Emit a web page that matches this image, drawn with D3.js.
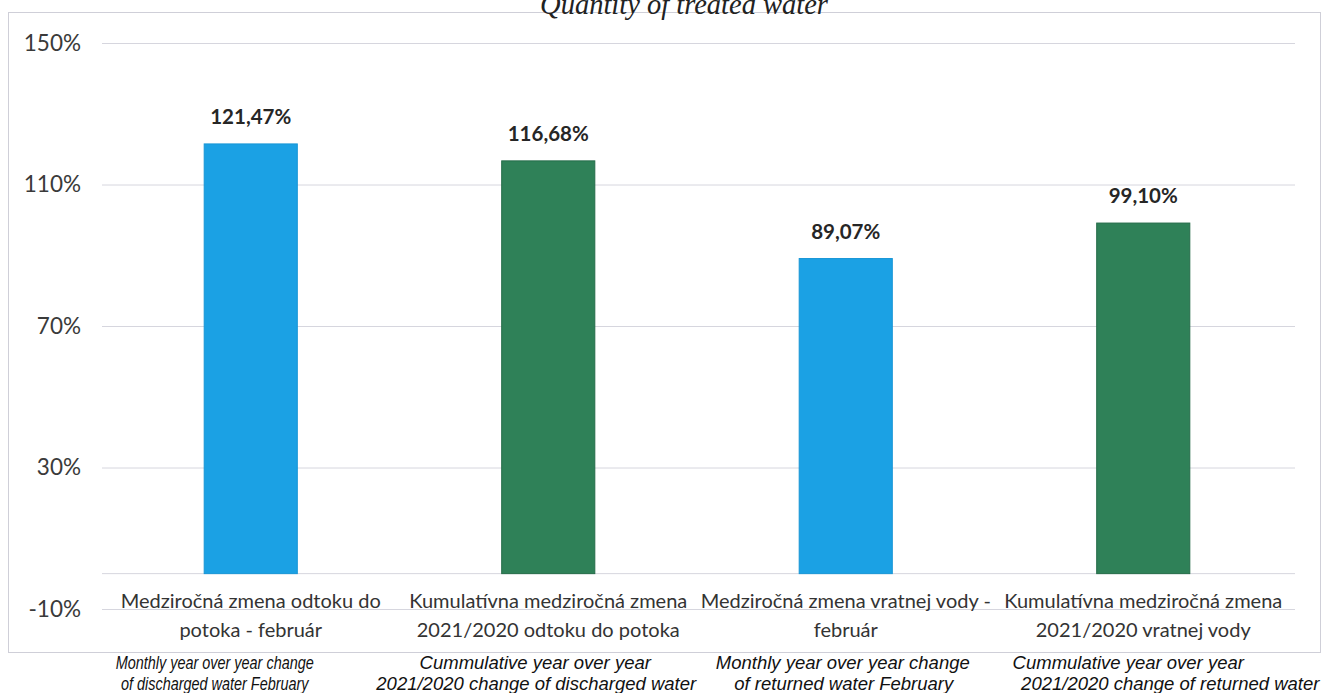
<!DOCTYPE html>
<html>
<head>
<meta charset="utf-8">
<script src="https://cdn.jsdelivr.net/npm/d3@7"></script>
<style>
  html, body { margin: 0; padding: 0; background: #ffffff; }
  svg { display: block; }
</style>
</head>
<body>
<svg id="chart" width="1324" height="693"></svg>
<script>
// ---- data ----
const categories = [
  ["Medziročná zmena odtoku do", "potoka - február"],
  ["Kumulatívna medziročná zmena", "2021/2020 odtoku do potoka"],
  ["Medziročná zmena vratnej vody -", "február"],
  ["Kumulatívna medziročná zmena", "2021/2020 vratnej vody"]
];
const values = [121.47, 116.68, 89.07, 99.10];
const valueLabels = ["121,47%", "116,68%", "89,07%", "99,10%"];
const barKinds = ["monthly", "cumulative", "monthly", "cumulative"];
const yTicks = [-10, 30, 70, 110, 150];
const englishLabels = [
  ["Monthly year over year change", "of discharged water February"],
  ["Cummulative year over year", "2021/2020 change of discharged water"],
  ["Monthly year over year change", "of returned water February"],
  ["Cummulative year over year", "2021/2020 change of returned water"]
];
const title = "Quantity of treated water";

// ---- layout ----
const W = 1324, H = 693;
const plot = { left: 102, right: 1292, top: 43, bottom: 609 };
// horizontal offsets of each English caption line from its category centre
const englishOffsets = [[-36, -36], [-13, -12], [-3, -2], [-15, 27]];
const englishScaleX = [0.78, 1.0, 1.0, 1.0];
const colors = { monthly: "#1ba1e4", cumulative: "#2f8158" };
const strokes = { monthly: "#1896d6", cumulative: "#256c49" };

const svg = d3.select("#chart");

// frame
svg.append("rect")
  .attr("x", 8.5).attr("y", 12.5)
  .attr("width", 1312).attr("height", 640)
  .attr("fill", "#ffffff")
  .attr("stroke", "#cfcfd8").attr("stroke-width", 1);

// title (partially cut at top, as in the reference)
svg.append("text")
  .attr("x", 684).attr("y", 14)
  .attr("text-anchor", "middle")
  .attr("font-family", "'Liberation Serif', 'DejaVu Serif', serif")
  .attr("font-style", "italic")
  .attr("font-size", 28.5)
  .attr("fill", "#222")
  .text(title);

const x = d3.scaleBand()
  .domain(d3.range(categories.length))
  .range([plot.left, plot.right])
  .paddingInner(0.687)
  .paddingOuter(0.3435);

const y = d3.scaleLinear()
  .domain([-10, 150])
  .range([plot.bottom, plot.top]);

// gridlines + tick labels
const yAxis = d3.axisLeft(y)
  .tickValues(yTicks)
  .tickSize(-(plot.right - plot.left + 3))
  .tickPadding(21)
  .tickFormat(d => d + "%");

const gy = svg.append("g")
  .attr("transform", `translate(${plot.left},0)`)
  .call(yAxis);
gy.select(".domain").remove();
gy.selectAll(".tick line").attr("stroke", "#d6d6de").attr("stroke-width", 1);
gy.selectAll(".tick text")
  .attr("font-family", "Lato, 'Open Sans', sans-serif")
  .attr("font-size", 22.5)
  .attr("fill", "#3a3a3a");

// zero axis line
svg.append("line")
  .attr("x1", plot.left).attr("x2", plot.right + 3)
  .attr("y1", y(0)).attr("y2", y(0))
  .attr("stroke", "#d6d6de").attr("stroke-width", 1);

// bars
svg.append("g").selectAll("rect")
  .data(values)
  .join("rect")
  .attr("x", (d, i) => x(i))
  .attr("width", x.bandwidth())
  .attr("y", d => y(Math.max(0, d)))
  .attr("height", d => Math.abs(y(d) - y(0)))
  .attr("fill", (d, i) => colors[barKinds[i]])
  .attr("stroke", (d, i) => strokes[barKinds[i]])
  .attr("stroke-width", 1);

// value labels
svg.append("g").selectAll("text")
  .data(values)
  .join("text")
  .attr("x", (d, i) => x(i) + x.bandwidth() / 2)
  .attr("y", d => y(d) - 20)
  .attr("text-anchor", "middle")
  .attr("font-family", "Lato, 'Open Sans', sans-serif")
  .attr("font-weight", "bold")
  .attr("font-size", 20.5)
  .attr("fill", "#262626")
  .text((d, i) => valueLabels[i]);

// category labels
const cat = svg.append("g").selectAll("text")
  .data(categories)
  .join("text")
  .attr("x", (d, i) => x(i) + x.bandwidth() / 2)
  .attr("y", y(0) + 34)
  .attr("text-anchor", "middle")
  .attr("font-family", "Lato, 'Open Sans', sans-serif")
  .attr("font-size", 20)
  .attr("fill", "#333");
cat.each(function(d) {
  const t = d3.select(this);
  d.forEach((line, k) => {
    t.append("tspan")
      .attr("x", t.attr("x"))
      .attr("dy", k === 0 ? 0 : 29)
      .text(line);
  });
});

// English captions below the frame (italic, per-caption width)
englishLabels.forEach((lines, i) => {
  const cx = x(i) + x.bandwidth() / 2;
  lines.forEach((line, k) => {
    svg.append("g")
      .attr("transform",
        `translate(${cx + englishOffsets[i][k]},${669 + k * 21}) scale(${englishScaleX[i]},1)`)
      .append("text")
      .attr("text-anchor", "middle")
      .attr("font-family", "'Liberation Sans', Arial, sans-serif")
      .attr("font-style", "italic")
      .attr("font-size", 18.5)
      .attr("fill", "#111")
      .text(line);
  });
});
</script>
</body>
</html>
